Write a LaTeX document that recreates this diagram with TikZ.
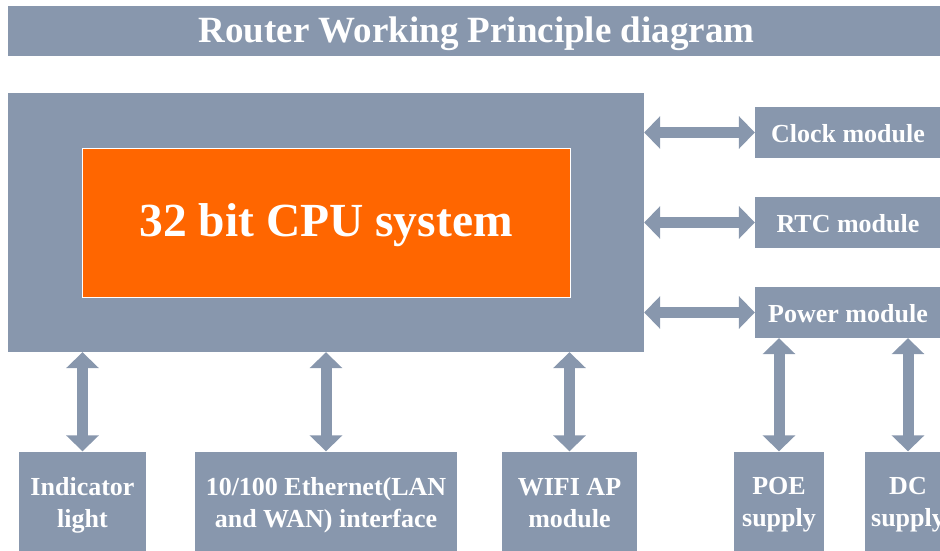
\documentclass[tikz,border=0pt]{standalone}
\usepackage{fontspec}
\setmainfont{Liberation Serif}
\usetikzlibrary{arrows.meta}
\definecolor{slate}{RGB}{136,151,173}
\definecolor{cpuorange}{RGB}{255,102,0}
\begin{document}
\begin{tikzpicture}[x=1pt,y=-1pt,
  box/.style={fill=slate, draw=none, inner sep=0pt},
  boxtext/.style={text=white, align=center, inner sep=0pt,
    font=\bfseries\fontsize{26}{32}\selectfont},
  dbl/.style={draw=slate, line width=11pt,
    {Triangle[width=32pt,length=16pt]}-{Triangle[width=32pt,length=16pt]}}]
\useasboundingbox (0,0) rectangle (940,551);
\clip (0,0) rectangle (940,551);
% title
\node[box, minimum width=937pt, minimum height=50pt,
  label={[boxtext, yshift=-3pt, font=\bfseries\fontsize{37}{40}\selectfont]center:Router Working Principle diagram}] (title) at (476.5,31) {};
% cpu
\node[box, minimum width=636pt, minimum height=259pt] (cpu) at (326,222.5) {};
\node[fill=cpuorange, draw=white, line width=1pt, inner sep=0pt,
  minimum width=488pt, minimum height=149pt,
  label={[boxtext, yshift=-3pt, font=\bfseries\fontsize{47.5}{50}\selectfont]center:32 bit CPU system}] (core) at (326,222.5) {};
% side modules
\node[box, minimum width=186pt, minimum height=51pt,
  label={[boxtext, yshift=-1pt]center:Clock module}] (clock) at (848,132.5) {};
\node[box, minimum width=186pt, minimum height=51pt,
  label={[boxtext, yshift=-1pt]center:RTC module}] (rtc) at (848,222.5) {};
\node[box, minimum width=186pt, minimum height=51pt,
  label={[boxtext, yshift=-1pt]center:Power module}] (power) at (848,312.5) {};
% bottom modules
\node[box, minimum width=127pt, minimum height=100pt,
  label={[boxtext, yshift=-3.5pt]center:Indicator\\light}] (ind) at (82.5,501.5) {};
\node[box, minimum width=262pt, minimum height=100pt,
  label={[boxtext, yshift=-3.5pt]center:10/100 Ethernet(LAN\\and WAN) interface}] (eth) at (326,501.5) {};
\node[box, minimum width=135pt, minimum height=100pt,
  label={[boxtext, yshift=-1.5pt]center:WIFI AP\\module}] (wifi) at (569.5,501.5) {};
\node[box, minimum width=90pt, minimum height=100pt,
  label={[boxtext, yshift=-3.5pt]center:POE\\supply}] (poe) at (779,501.5) {};
\node[box, minimum width=86pt, minimum height=100pt,
  label={[boxtext, yshift=-3.5pt]center:DC\\supply}] (dc) at (908,501.5) {};
% connectors
\draw[dbl] (cpu.east |- clock.west) -- (clock.west);
\draw[dbl] (cpu.east |- rtc.west) -- (rtc.west);
\draw[dbl] (cpu.east |- power.west) -- (power.west);
\draw[dbl] (cpu.south -| ind.north) -- (ind.north);
\draw[dbl] (cpu.south -| eth.north) -- (eth.north);
\draw[dbl] (cpu.south -| wifi.north) -- (wifi.north);
\draw[dbl] (power.south -| poe.north) -- (poe.north);
\draw[dbl] (power.south -| dc.north) -- (dc.north);
\end{tikzpicture}
\end{document}
